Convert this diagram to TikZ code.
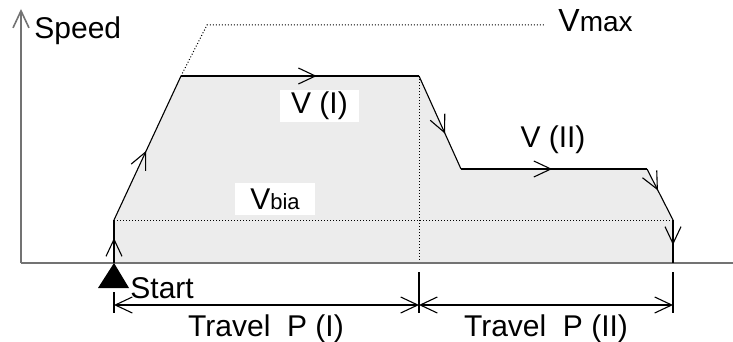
\documentclass[tikz,border=0pt]{standalone}
\usepackage{fontspec}
\setmainfont{Liberation Sans}
\usetikzlibrary{arrows.meta}
\usetikzlibrary{decorations.markings}

\begin{document}
\begin{tikzpicture}[x=0.5pt,y=-0.5pt,
    >={Straight Barb[length=8.5pt,width=8pt]},
    every node/.style={font=\fontsize{15}{18}\selectfont, inner sep=0pt},
    profile/.style={line width=0.55pt},
    guide/.style={dash pattern=on 0.5pt off 1pt, line width=0.5pt},
    axis/.style={black!55, line width=0.8pt},
    midarrow/.style={postaction={decorate, decoration={markings, mark=at position #1 with {\arrow{>}}}}}]
    \useasboundingbox (0,0) rectangle (733,342);
    % points du profil
    \coordinate (o) at (21,263);
    \coordinate (ytop) at (21,9);
    \coordinate (xend) at (733,263);
    \coordinate (s0) at (114,263);
    \coordinate (s1) at (114,220);
    \coordinate (a1) at (181,76);
    \coordinate (a2) at (419,76);
    \coordinate (m0) at (419,263);
    \coordinate (b1) at (461,169);
    \coordinate (b2) at (647,169);
    \coordinate (e1) at (673,220);
    \coordinate (e0) at (673,263);
    \coordinate (vm1) at (207,25);
    \coordinate (vm2) at (545,25);
    % surface
    \fill[gray!15] (s0) -- (s1) -- (a1) -- (a2) -- (b1) -- (b2) -- (e1) -- (e0) -- cycle;
    \draw[guide] (s1) -- (e1);
    \draw[guide] (a2) -- (m0);
    \draw[guide] (a1) -- (vm1) -- (vm2);
    % axes
    \draw[axis, ->] (o) -- (ytop);
    \draw[axis] (o) -- (xend);
    \begin{scope}[profile]
    \draw[midarrow=0.58] (s0) -- (s1);
    \draw[midarrow=0.48] (s1) -- (a1);
    \draw[midarrow=0.57] (a1) -- (a2);
    \draw[midarrow=0.62] (a2) -- (b1);
    \draw[midarrow=0.49] (b1) -- (b2);
    \draw[midarrow=0.42] (b2) -- (e1);
    \draw[midarrow=0.58] (e1) -- (e0);
    \end{scope}
    \draw[line width=1pt] (553,169) -- (593,169);
    % depart
    \fill (s0) -- (98,288) -- (129,288) -- cycle;
    % cotes
    \coordinate (d0) at (114,305);
    \coordinate (d1) at (419,305);
    \coordinate (d2) at (673,305);
    \foreach \x/\t in {114/292,419/272,673/272}
        \draw[profile] (\x,\t) -- (\x,313);
    \draw[profile, <->] (d0) -- (d1);
    \draw[profile, <->] (d1) -- (d2);
    % textes
    \node[anchor=base west] (speed) at (34,39) {Speed};
    \node[anchor=base west] (vmax) at (558,32) {\fontsize{16}{18}\selectfont V\fontsize{14}{16}\selectfont max};
    \node[fill=white, minimum width=39.5pt, minimum height=16pt] (vone) at (319.5,106) {V (I)};
    \node[fill=white, minimum width=40pt, minimum height=16pt] (vbia) at (275,199) {V{\fontsize{11}{12}\selectfont bia}};
    \node[anchor=base] (vtwo) at (553,148) {V (II)};
    \node[anchor=base west] (start) at (130,298) {Start};
    \node[anchor=base] (pone) at (266,336) {Travel\ \ P (I)};
    \node[anchor=base] (ptwo) at (546,336) {Travel\ \ P (II)};
\end{tikzpicture}
\end{document}
